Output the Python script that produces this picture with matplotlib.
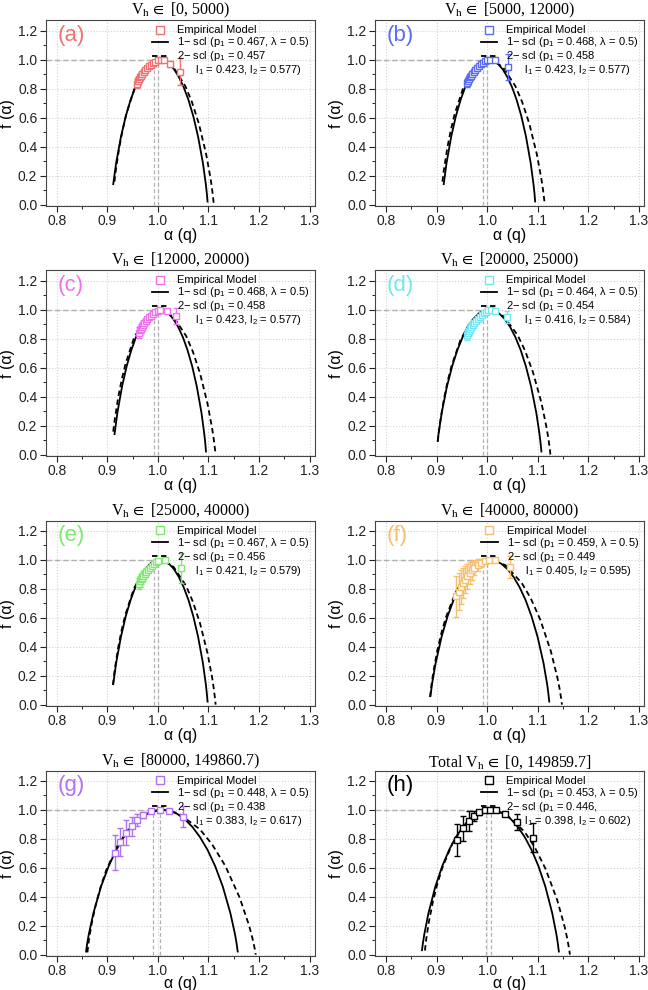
import matplotlib
matplotlib.use("Agg")
import matplotlib.pyplot as plt
from matplotlib.lines import Line2D
from matplotlib.ticker import MultipleLocator

plt.rcParams['font.family'] = ['Liberation Sans', 'DejaVu Sans']
plt.rcParams['mathtext.fontset'] = 'stix'

# ---------------- data ----------------
letters = ['a', 'b', 'c', 'd', 'e', 'f', 'g', 'h']
titles = ['[0, 5000)', '[5000, 12000)', '[12000, 20000)', '[20000, 25000)',
          '[25000, 40000)', '[40000, 80000)', '[80000, 149860.7)', '[0, 149859.7]']
colors = ['#f07272', '#5a6cf2', '#ee72ee', '#72e6f2', '#7ee870', '#f5bf70', '#b272f0', 'black']

p1_one = ['0.467', '0.468', '0.468', '0.464', '0.467', '0.459', '0.448', '0.453']
p1_two = ['0.457', '0.458', '0.458', '0.454', '0.456', '0.449', '0.438', '0.446,']
l1_two = ['0.423', '0.423', '0.423', '0.416', '0.421', '0.405', '0.383', '0.398']
l2_two = ['0.577', '0.577', '0.577', '0.584', '0.579', '0.595', '0.617', '0.602']

# grey reference lines near alpha = 1
vlines = [(0.992, 1.0), (0.992, 1.0), (0.993, 1.001), (0.991, 1.0),
          (0.992, 1.0), (0.992, 1.0), (0.99, 1.005), (0.997, 1.007)]

# 1-scale model curves
f_1s_top = [0.286, 0.469, 0.610, 0.722, 0.811, 0.881, 0.934, 0.971, 0.993, 1.000,
            0.993, 0.971, 0.934, 0.881, 0.811, 0.722, 0.610, 0.469, 0.286, 0.141, 0.081, 0.021]

a1_a = [0.9116, 0.9173, 0.9269, 0.9364, 0.9459, 0.9555, 0.9650, 0.9745, 0.9841, 0.9936, 1.0032,
        1.0127, 1.0222, 1.0318, 1.0413, 1.0508, 1.0604, 1.0699, 1.0794, 1.0890, 1.0947, 1.0966, 1.0981]
f1_a = [0.141] + f_1s_top
a1_b = [0.9142, 0.9197, 0.9290, 0.9382, 0.9475, 0.9567, 0.9660, 0.9752, 0.9845, 0.9937, 1.0030,
        1.0122, 1.0214, 1.0307, 1.0399, 1.0492, 1.0584, 1.0677, 1.0769, 1.0862, 1.0917, 1.0936, 1.0950]
f1_b = [0.141] + f_1s_top
a1_c = a1_b
f1_c = f1_b
a1_d = [0.9022, 0.9039, 0.9101, 0.9205, 0.9309, 0.9413, 0.9517, 0.9621, 0.9725, 0.9829, 0.9933, 1.0038,
        1.0142, 1.0246, 1.0350, 1.0454, 1.0558, 1.0662, 1.0766, 1.0870, 1.0974, 1.1036, 1.1057, 1.1074]
f1_d = [0.094, 0.141] + f_1s_top
a1_e = a1_a
f1_e = [0.141] + f_1s_top
a1_f = [0.8880, 0.8910, 0.8982, 0.9100, 0.9219, 0.9337, 0.9456, 0.9574, 0.9693, 0.9811, 0.9930, 1.0049,
        1.0167, 1.0286, 1.0404, 1.0523, 1.0641, 1.0760, 1.0878, 1.0997, 1.1116, 1.1187, 1.1210, 1.1229]
f1_f = [0.060, 0.141] + f_1s_top
a1_g = [0.8579, 0.8603, 0.8633, 0.8724, 0.8874, 0.9025, 0.9175, 0.9326, 0.9476, 0.9627, 0.9777, 0.9928,
        1.0079, 1.0229, 1.0380, 1.0530, 1.0681, 1.0831, 1.0982, 1.1132, 1.1283, 1.1433, 1.1524, 1.1554, 1.1578]
f1_g = [0.021, 0.081, 0.141] + f_1s_top
a1_h = [0.8712, 0.8731, 0.8758, 0.8840, 0.8976, 0.9112, 0.9248, 0.9384, 0.9520, 0.9656, 0.9792, 0.9928,
        1.0064, 1.0200, 1.0336, 1.0472, 1.0608, 1.0744, 1.0880, 1.1016, 1.1152, 1.1288, 1.1370, 1.1397, 1.1419]
f1_h = [0.030, 0.081, 0.141] + f_1s_top

# 2-scale model curves
a2_a = [0.9140, 0.9167, 0.9234, 0.9305, 0.9377, 0.9532, 0.9700, 0.9882, 1.0034, 1.0082, 1.0301,
        1.0541, 1.0671, 1.0808, 1.0952, 1.1043, 1.1073, 1.1098, 1.1105]
f2_a = [0.158, 0.235, 0.392, 0.519, 0.627, 0.796, 0.914, 0.983, 1.000, 0.998, 0.950,
        0.818, 0.709, 0.560, 0.351, 0.176, 0.101, 0.026, 0.0]
a2_b = [0.9116, 0.9143, 0.9213, 0.9285, 0.9360, 0.9519, 0.9692, 0.9880, 1.0036, 1.0085, 1.0310,
        1.0558, 1.0692, 1.0833, 1.0981, 1.1074, 1.1106, 1.1132, 1.1138]
f2_b = f2_a
a2_c = a2_b
f2_c = f2_a
a2_d = [0.9024, 0.9045, 0.9074, 0.9147, 0.9223, 0.9302, 0.9471, 0.9656, 0.9858, 1.0043, 1.0080,
        1.0327, 1.0600, 1.0749, 1.0906, 1.1074, 1.1179, 1.1215, 1.1244, 1.1251]
f2_d = [0.089, 0.155, 0.231, 0.386, 0.512, 0.618, 0.788, 0.908, 0.980, 1.000, 0.999,
        0.955, 0.826, 0.718, 0.569, 0.358, 0.180, 0.103, 0.027, 0.0]
a2_e = [0.9110, 0.9143, 0.9212, 0.9284, 0.9359, 0.9517, 0.9689, 0.9876, 1.0036, 1.0081, 1.0307,
        1.0556, 1.0690, 1.0832, 1.0982, 1.1077, 1.1108, 1.1134, 1.1141]
f2_e = [0.136, 0.234, 0.390, 0.517, 0.624, 0.794, 0.912, 0.982, 1.000, 0.999, 0.951,
        0.820, 0.711, 0.562, 0.353, 0.177, 0.102, 0.026, 0.0]
a2_f = [0.8871, 0.8889, 0.8936, 0.9016, 0.9100, 0.9188, 0.9377, 0.9585, 0.9815, 1.0058, 1.0360,
        1.0685, 1.0864, 1.1055, 1.1260, 1.1390, 1.1435, 1.1471, 1.1480]
f2_f = [0.052, 0.109, 0.224, 0.376, 0.500, 0.605, 0.775, 0.897, 0.974, 1.000, 0.963,
        0.839, 0.733, 0.583, 0.369, 0.186, 0.107, 0.028, 0.0]
a2_g = [0.8605, 0.8636, 0.8688, 0.8778, 0.8874, 0.8974, 0.9193, 0.9439, 0.9717, 1.0035, 1.0093,
        1.0401, 1.0828, 1.1069, 1.1331, 1.1618, 1.1804, 1.1868, 1.1921, 1.1934]
f2_g = [0.015, 0.103, 0.212, 0.356, 0.476, 0.579, 0.748, 0.875, 0.961, 0.999, 1.000,
        0.976, 0.865, 0.762, 0.613, 0.392, 0.199, 0.115, 0.030, 0.0]
a2_h = [0.8770, 0.8796, 0.8845, 0.8930, 0.9019, 0.9112, 0.9313, 0.9536, 0.9785, 1.0070, 1.0380,
        1.0740, 1.0940, 1.1155, 1.1387, 1.1535, 1.1586, 1.1627, 1.1637]
f2_h = [0.028, 0.107, 0.220, 0.369, 0.492, 0.597, 0.766, 0.890, 0.970, 1.000, 0.967,
        0.848, 0.742, 0.592, 0.376, 0.190, 0.109, 0.028, 0.0]

# empirical spectra
ae_a = [0.958, 0.960, 0.962, 0.964, 0.966, 0.969, 0.972, 0.975, 0.978, 0.982, 0.986, 0.990, 0.995,
        1.000, 1.006, 1.012, 1.023, 1.043]
fe_a = [0.835, 0.850, 0.864, 0.877, 0.889, 0.903, 0.916, 0.928, 0.940, 0.953, 0.965, 0.976, 0.986,
        0.994, 0.999, 0.998, 0.972, 0.918]
ee_a = [0.030, 0.028, 0.026, 0.024, 0.022, 0.020, 0.018, 0.016, 0.014, 0.012, 0.010, 0.008, 0.006,
        0.005, 0.004, 0.004, 0.020, 0.095]
ae_b = [0.960, 0.962, 0.964, 0.966, 0.968, 0.971, 0.974, 0.977, 0.980, 0.984, 0.988, 0.992, 0.996,
        1.000, 1.005, 1.016, 1.041]
fe_b = [0.838, 0.852, 0.866, 0.878, 0.890, 0.904, 0.918, 0.930, 0.942, 0.955, 0.967, 0.978, 0.988,
        0.995, 0.999, 0.997, 0.947]
ee_b = [0.026, 0.024, 0.022, 0.020, 0.019, 0.017, 0.015, 0.013, 0.011, 0.010, 0.008, 0.006, 0.005,
        0.004, 0.004, 0.005, 0.090]
ae_c = [0.962, 0.964, 0.966, 0.968, 0.970, 0.973, 0.976, 0.979, 0.983, 0.987, 0.991, 0.995, 1.000,
        1.005, 1.018, 1.035]
fe_c = [0.842, 0.856, 0.869, 0.881, 0.893, 0.907, 0.920, 0.932, 0.946, 0.959, 0.971, 0.983, 0.993,
        0.998, 0.993, 0.955]
ee_c = [0.035, 0.033, 0.030, 0.028, 0.025, 0.022, 0.020, 0.017, 0.014, 0.011, 0.008, 0.006, 0.005,
        0.004, 0.006, 0.055]
ae_d = [0.961, 0.963, 0.965, 0.967, 0.969, 0.972, 0.975, 0.978, 0.981, 0.985, 0.989, 0.993, 0.997,
        1.002, 1.008, 1.016, 1.040]
fe_d = [0.825, 0.840, 0.855, 0.868, 0.881, 0.896, 0.910, 0.923, 0.935, 0.949, 0.962, 0.974, 0.985,
        0.994, 0.998, 0.992, 0.950]
ee_d = [0.035, 0.032, 0.030, 0.027, 0.025, 0.022, 0.019, 0.016, 0.014, 0.011, 0.009, 0.007, 0.005,
        0.004, 0.004, 0.006, 0.040]
ae_e = [0.963, 0.965, 0.967, 0.969, 0.971, 0.974, 0.977, 0.980, 0.984, 0.988, 0.992, 0.996, 1.000,
        1.014, 1.046]
fe_e = [0.835, 0.850, 0.864, 0.877, 0.889, 0.904, 0.918, 0.931, 0.945, 0.959, 0.972, 0.984, 0.994,
        0.995, 0.942]
ee_e = [0.040, 0.038, 0.035, 0.032, 0.030, 0.026, 0.022, 0.018, 0.015, 0.012, 0.009, 0.007, 0.005,
        0.005, 0.105]
ae_f = [0.938, 0.944, 0.949, 0.953, 0.957, 0.961, 0.966, 0.970, 0.975, 0.981, 0.988, 0.995, 1.003,
        1.016, 1.045]
fe_f = [0.746, 0.780, 0.812, 0.840, 0.863, 0.885, 0.908, 0.927, 0.945, 0.962, 0.977, 0.990, 0.997,
        0.996, 0.947]
ee_f = [0.140, 0.125, 0.115, 0.105, 0.095, 0.085, 0.075, 0.065, 0.050, 0.040, 0.030, 0.020, 0.012,
        0.010, 0.075]
ae_g = [0.915, 0.925, 0.937, 0.948, 0.959, 0.971, 0.986, 1.004, 1.022, 1.050]
fe_g = [0.704, 0.778, 0.842, 0.884, 0.928, 0.962, 0.990, 1.000, 0.988, 0.951]
ee_g = [0.123, 0.098, 0.087, 0.068, 0.042, 0.022, 0.010, 0.006, 0.008, 0.073]
ae_h = [0.940, 0.953, 0.964, 0.974, 0.984, 0.995, 1.006, 1.018, 1.036, 1.059, 1.090]
fe_h = [0.790, 0.870, 0.922, 0.958, 0.982, 0.997, 1.000, 0.996, 0.972, 0.918, 0.805]
ee_h = [0.108, 0.088, 0.072, 0.035, 0.018, 0.008, 0.005, 0.006, 0.015, 0.055, 0.100]

one_scl = [(a1_a, f1_a), (a1_b, f1_b), (a1_c, f1_c), (a1_d, f1_d),
           (a1_e, f1_e), (a1_f, f1_f), (a1_g, f1_g), (a1_h, f1_h)]
two_scl = [(a2_a, f2_a), (a2_b, f2_b), (a2_c, f2_c), (a2_d, f2_d),
           (a2_e, f2_e), (a2_f, f2_f), (a2_g, f2_g), (a2_h, f2_h)]
empirical = [(ae_a, fe_a, ee_a), (ae_b, fe_b, ee_b), (ae_c, fe_c, ee_c), (ae_d, fe_d, ee_d),
             (ae_e, fe_e, ee_e), (ae_f, fe_f, ee_f), (ae_g, fe_g, ee_g), (ae_h, fe_h, ee_h)]

# ---------------- figure ----------------
fig = plt.figure(figsize=(6.48, 9.9), dpi=100)

serif = ['Liberation Serif', 'DejaVu Serif']
lefts = [0.0705, 0.5785]
bottoms = [0.7919, 0.5394, 0.2868, 0.0343]
W, H = 0.4151, 0.1874
xmin = 0.778

for i, let in enumerate(letters):
    ax = fig.add_axes([lefts[i % 2], bottoms[i // 2], W, H])
    col = colors[i]

    ax.set_xlim(xmin, 1.31)
    ax.set_ylim(-0.01, 1.27)
    ax.xaxis.set_major_locator(MultipleLocator(0.1))
    ax.xaxis.set_minor_locator(MultipleLocator(0.05))
    ax.yaxis.set_major_locator(MultipleLocator(0.2))
    ax.yaxis.set_minor_locator(MultipleLocator(0.1))
    ax.grid(True, which='major', ls=':', color='#d2d2d2', lw=0.8)
    ax.set_axisbelow(True)
    ax.tick_params(which='major', direction='out', length=4, width=0.8, labelsize=10,
                   colors='#222222', top=False, right=False, pad=2)
    ax.tick_params(which='minor', direction='out', length=2, width=0.7, colors='#222222',
                   top=False, right=False)
    for s in ax.spines.values():
        s.set_color('#444444')
        s.set_linewidth(0.8)

    # reference dashed lines
    v1, v2 = vlines[i]
    ax.plot([xmin, v2], [1.0, 1.0], color='#b0b0b0', lw=1.0, ls=(0, (4, 2)), zorder=1)
    for v in (v1, v2):
        ax.plot([v, v], [0.0, 1.0], color='#b0b0b0', lw=0.9, ls=(0, (3, 2)), zorder=1)

    a1, f1 = one_scl[i]
    a2, f2 = two_scl[i]
    ax.plot(a1, f1, color='black', lw=1.3, zorder=3)
    ax.plot(a2, f2, color='black', lw=1.3, ls=(0, (3, 2)), zorder=3)

    ae, fe, ee = empirical[i]
    ax.errorbar(ae, fe, yerr=ee, fmt='s', ms=5, mfc='white', mec=col, mew=1.0,
                ecolor=col, elinewidth=1.0, capsize=2, capthick=1.0, zorder=4)

    prefix = 'Total ' if let == 'h' else ''
    ax.set_title(prefix + r'$\mathregular{V_h}\,\in$ ' + titles[i],
                 family=serif, fontsize=11.5, pad=3)
    ax.set_xlabel('α (q)', fontsize=11.5, labelpad=(-1.5 if i >= 6 else 0))
    ax.set_ylabel('f (α)', fontsize=11.5, labelpad=2)

    ax.text(0.045, 0.975, '(%s)' % let, transform=ax.transAxes, ha='left', va='top',
            fontsize=16, color=col)

    handles = [Line2D([], [], marker='s', ls='none', ms=5.5, mfc='white', mec=col, mew=1.0),
               Line2D([], [], color='black', lw=1.3),
               Line2D([], [], color='black', lw=1.3, ls=(0, (3, 2))),
               Line2D([], [], ls='none')]
    labels = ['Empirical Model',
              '1\u2212 scl ($\\mathregular{p_1}$ = %s, λ = 0.5)' % p1_one[i],
              '2\u2212 scl ($\\mathregular{p_1}$ = %s' % p1_two[i],
              '      $\\mathregular{l_1}$ = %s, $\\mathregular{l_2}$ = %s)' % (l1_two[i], l2_two[i])]
    ax.legend(handles, labels, loc='upper right', bbox_to_anchor=(1.0, 1.0), frameon=False,
              fontsize=8, handlelength=1.5, handletextpad=0.8, labelspacing=0.0,
              borderaxespad=0.25, borderpad=0.2)

fig.savefig('out.png', dpi=100)
